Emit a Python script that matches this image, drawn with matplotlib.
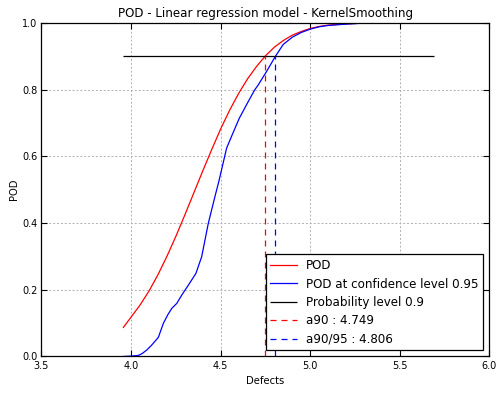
import matplotlib
matplotlib.use("Agg")
from matplotlib import pyplot as plt

# POD curve (linear regression, kernel smoothing)
defects = [3.957, 4.00, 4.05, 4.10, 4.15, 4.20, 4.25, 4.30, 4.35, 4.40,
           4.45, 4.50, 4.55, 4.60, 4.65, 4.70, 4.75, 4.80, 4.85, 4.90,
           4.95, 5.00, 5.05, 5.10, 5.15, 5.20, 5.30, 5.40, 5.50, 5.69]
pod = [0.087, 0.118, 0.154, 0.196, 0.245, 0.300, 0.360, 0.424, 0.490, 0.556,
       0.620, 0.682, 0.738, 0.788, 0.832, 0.869, 0.901, 0.927, 0.947, 0.963,
       0.974, 0.983, 0.989, 0.993, 0.995, 0.997, 0.999, 0.9997, 1.0, 1.0]

# POD at confidence level 0.95
defects_conf = [3.957, 4.00, 4.04, 4.06, 4.087, 4.115, 4.152, 4.18, 4.205, 4.227,
                4.255, 4.283, 4.32, 4.362, 4.394, 4.431, 4.468, 4.49, 4.533, 4.561,
                4.604, 4.65, 4.69, 4.71, 4.756, 4.806, 4.849, 4.90, 4.95, 5.00,
                5.05, 5.10, 5.20, 5.30, 5.69]
pod_conf = [0.0, 0.001, 0.003, 0.008, 0.019, 0.034, 0.057, 0.099, 0.125, 0.144,
            0.159, 0.184, 0.214, 0.249, 0.299, 0.399, 0.479, 0.525, 0.624, 0.660,
            0.714, 0.760, 0.799, 0.814, 0.854, 0.900, 0.935, 0.957, 0.971, 0.981,
            0.988, 0.992, 0.996, 0.999, 1.0]

prob_level = 0.9
a90 = 4.749
a9095 = 4.806
xlims = (3.957, 5.69)

fig = plt.figure(figsize=(5.03, 3.93), dpi=100)
ax = fig.add_axes([0.0825, 0.093, 0.8905, 0.849])

dash = (0, (4.8, 4.0))
ax.plot(defects, pod, color="red", lw=0.9, label="POD")
ax.plot(defects_conf, pod_conf, color="blue", lw=0.9,
        label="POD at confidence level 0.95")
ax.hlines(prob_level, xlims[0], xlims[1], color="black", lw=0.9,
          label="Probability level 0.9")
ax.vlines(a90, 0, prob_level, color="red", lw=0.9, linestyles=dash,
          label="a90 : %.3f" % a90)
ax.vlines(a9095, 0, prob_level, color="blue", lw=0.9, linestyles=dash,
          label="a90/95 : %.3f" % a9095)

ax.set_xlim(3.5, 6.0)
ax.set_ylim(0, 1)
ax.set_xticks([3.5, 4.0, 4.5, 5.0, 5.5, 6.0])
ax.set_yticks([0.0, 0.2, 0.4, 0.6, 0.8, 1.0])
ax.grid(True, color="#b0b0b0", linestyle=(0, (2, 2)), lw=0.7)
ax.tick_params(direction="in", top=True, right=True, labelsize=7, length=4,
               pad=3)
for s in ax.spines.values():
    s.set_linewidth(0.9)

ax.set_xlabel("Defects", fontsize=7.2, labelpad=4)
ax.set_ylabel("POD", fontsize=7.2, labelpad=2)
ax.set_title("POD - Linear regression model - KernelSmoothing", fontsize=8.6,
             pad=4)

leg = ax.legend(loc="lower right", fontsize=8.6, fancybox=False, framealpha=1,
                edgecolor="black", handlelength=2.2, borderaxespad=0.5,
                labelspacing=0.45)
leg.get_frame().set_linewidth(0.9)

fig.savefig("out.png", dpi=100)
